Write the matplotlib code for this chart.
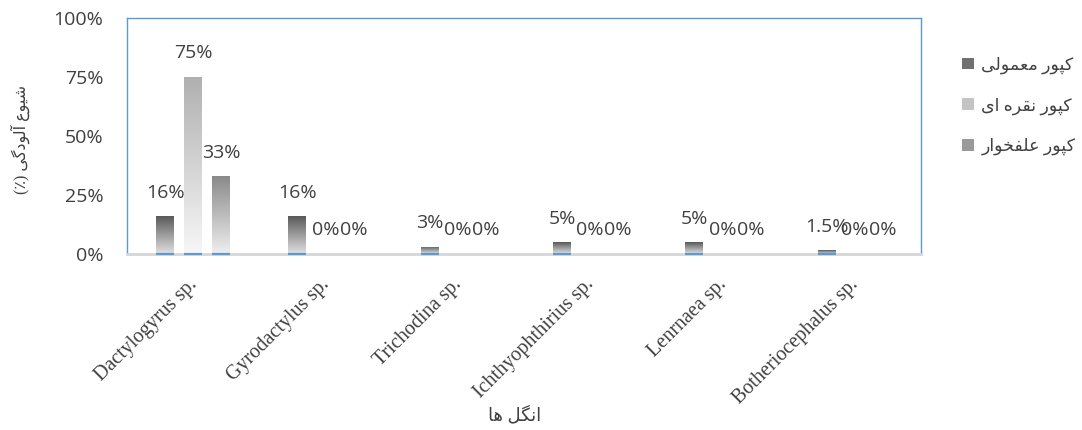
import numpy as np
import matplotlib

matplotlib.use("Agg")
import matplotlib.pyplot as plt  # noqa: E402
import matplotlib.transforms as mtransforms  # noqa: E402
from matplotlib.colors import LinearSegmentedColormap  # noqa: E402
from matplotlib.patches import Patch  # noqa: E402

# prevalence (%) per parasite, one list per carp species
categories = ["Dactylogyrus sp.", "Gyrodactylus sp.", "Trichodina sp.",
              "Ichthyophthirius sp.", "Lenrnaea sp.", "Botheriocephalus sp."]
common_carp = [16, 16, 3, 5, 5, 1.5]
silver_carp = [75, 0, 0, 0, 0, 0]
grass_carp = [33, 0, 0, 0, 0, 0]
value_labels = [
    ["16%", "16%", "3%", "5%", "5%", "1.5%"],
    ["75%", "0%", "0%", "0%", "0%", "0%"],
    ["33%", "0%", "0%", "0%", "0%", "0%"],
]
series_names = ["کپور معمولی", "کپور نقره ای", "کپور علفخوار"]
y_ticks = [0, 25, 50, 75, 100]
x_title = "انگل ها"
y_title = "شیوع آلودگی (٪)"

# (top colour, bottom colour) of each bar gradient
GRAD = [("#595959", "#e2e2e2"), ("#b0b0b0", "#f7f7f7"), ("#8a8a8a", "#efefef")]
LEGEND_COL = ["#707070", "#c4c4c4", "#9a9a9a"]
BLUE = "#5b9bd5"
TEXT = "#404040"

# minimal Persian shaping: matplotlib 3.10 has no complex text layout
FORMS = {
    "ا": ("\uFE8D", "\uFE8E", None, None),
    "آ": ("\uFE81", "\uFE82", None, None),
    "د": ("\uFEA9", "\uFEAA", None, None),
    "ر": ("\uFEAD", "\uFEAE", None, None),
    "و": ("\uFEED", "\uFEEE", None, None),
    "ک": ("\uFB8E", "\uFB8F", "\uFB90", "\uFB91"),
    "گ": ("\uFB92", "\uFB93", "\uFB94", "\uFB95"),
    "پ": ("\uFB56", "\uFB57", "\uFB58", "\uFB59"),
    "م": ("\uFEE1", "\uFEE2", "\uFEE3", "\uFEE4"),
    "ع": ("\uFEC9", "\uFECA", "\uFECB", "\uFECC"),
    "ل": ("\uFEDD", "\uFEDE", "\uFEDF", "\uFEE0"),
    "ی": ("\uFBFC", "\uFBFD", "\uFBFE", "\uFBFF"),
    "ن": ("\uFEE5", "\uFEE6", "\uFEE7", "\uFEE8"),
    "ق": ("\uFED5", "\uFED6", "\uFED7", "\uFED8"),
    "ه": ("\uFEE9", "\uFEEA", "\uFEEB", "\uFEEC"),
    "ف": ("\uFED1", "\uFED2", "\uFED3", "\uFED4"),
    "خ": ("\uFEA5", "\uFEA6", "\uFEA7", "\uFEA8"),
    "ش": ("\uFEB5", "\uFEB6", "\uFEB7", "\uFEB8"),
}


def shape(text):
    out = []
    for i, ch in enumerate(text):
        if ch not in FORMS:
            out.append(ch)
            continue
        prev = text[i - 1] if i > 0 else ""
        nxt = text[i + 1] if i + 1 < len(text) else ""
        jp = prev in FORMS and FORMS[prev][2] is not None
        jn = nxt in FORMS and FORMS[ch][2] is not None
        iso, fin, ini, med = FORMS[ch]
        out.append(med if jp and jn else fin if jp else ini if jn else iso)
    mirror = {"(": ")", ")": "("}
    return "".join(mirror.get(c, c) for c in reversed(out))


FA = ["Liberation Serif", "DejaVu Sans"]
NUM = ["Open Sans", "DejaVu Sans"]

fig = plt.figure(figsize=(10.82, 4.30), dpi=100)
ax = fig.add_axes([0.1174, 0.4093, 0.7338, 0.5488])

x = np.arange(len(categories))
offset, width = 0.212, 0.136
series = [common_carp, silver_carp, grass_carp]
grad = np.linspace(0, 1, 256).reshape(-1, 1)

for k, values in enumerate(series):
    pos = x + (k - 1) * offset
    cmap = LinearSegmentedColormap.from_list(f"g{k}", [GRAD[k][1], GRAD[k][0]])
    bars = ax.bar(pos, values, width, color="none", edgecolor="none", zorder=2)
    for bar, v, xc, lab in zip(bars, values, pos, value_labels[k]):
        if v > 0:
            im = ax.imshow(grad, cmap=cmap, aspect="auto", origin="lower",
                           extent=[xc - width / 2, xc + width / 2, 0, v],
                           zorder=2)
            im.set_clip_path(bar)
            ax.plot([xc - width / 2, xc + width / 2], [0, 0], color=BLUE,
                    lw=1.6, zorder=4, solid_capstyle="butt", clip_on=False)
        ax.annotate(lab, (xc, v), xytext=(0, 17), textcoords="offset points",
                    ha="center", va="center", fontsize=14, color=TEXT,
                    family=NUM, zorder=5)

ax.set_xlim(-0.5, len(categories) - 0.5)
ax.set_ylim(0, 100)
ax.set_yticks(y_ticks)
ax.set_yticklabels([f"{t}%" for t in y_ticks], family=NUM, fontsize=14,
                   color=TEXT)
ax.set_xticks(x)
ax.set_xticklabels(categories, rotation=45, ha="right",
                   rotation_mode="anchor", family="Liberation Serif",
                   fontsize=14.5, color=TEXT)
ax.tick_params(axis="both", length=0)
ax.tick_params(axis="y", pad=17)
ax.tick_params(axis="x", pad=15)

# nudge the rotated category names a few pixels left, as in the reference
shift = mtransforms.ScaledTranslation(-4 / 72, 0, fig.dpi_scale_trans)
for lab in ax.get_xticklabels():
    lab.set_transform(lab.get_transform() + shift)

for side in ("left", "top", "right"):
    ax.spines[side].set_color(BLUE)
    ax.spines[side].set_linewidth(1.0)
ax.spines["bottom"].set_color("#d6d6d6")
ax.spines["bottom"].set_linewidth(2.0)

fig.text(0.019, 0.675, shape(y_title), rotation=90, ha="center", va="center",
         family=FA, fontsize=11.5, color=TEXT)
fig.text(0.476, 0.035, shape(x_title), ha="center", va="center",
         family=FA, fontsize=13, color=TEXT)

handles = [Patch(facecolor=c, edgecolor="none") for c in LEGEND_COL]
fig.legend(handles, [shape(s) for s in series_names], loc="upper left",
           bbox_to_anchor=(0.875, 0.905), frameon=False,
           prop={"family": FA, "size": 12.5}, labelcolor=TEXT,
           handlelength=0.65, handleheight=0.65, handletextpad=0.45,
           labelspacing=1.35)

fig.savefig("out.png", dpi=100)
